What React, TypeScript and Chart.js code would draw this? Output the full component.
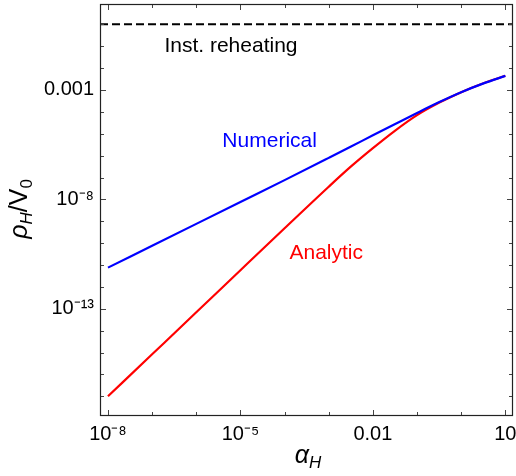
import React, { useEffect, useRef } from 'react';
import { Chart, registerables } from 'chart.js';

Chart.register(...registerables);

// ---- data ----
const alphaH = [1e-8, 1e-7, 1e-6, 1e-5, 1e-4, 1e-3, 3.2e-3, 1e-2, 3.2e-2, 0.1, 0.32, 1, 3.2, 10];
const numerical = [7.6e-12, 7.6e-11, 7.6e-10, 7.6e-9, 7.6e-8, 7.9e-7, 2.6e-6, 8.5e-6, 2.8e-5, 8.9e-5, 2.8e-4, 7.9e-4, 2.0e-3, 4.4e-3];
const analytic = [1.0e-17, 8.3e-16, 6.9e-14, 5.8e-12, 4.8e-10, 3.8e-8, 3.2e-7, 2.2e-6, 1.4e-5, 7.1e-5, 2.65e-4, 7.95e-4, 2.05e-3, 4.45e-3];
const instReheatingX = [6.6e-9, 14.9];
const instReheating = [1, 1];

const xTickValues = [1e-8, 1e-7, 1e-6, 1e-5, 1e-4, 1e-3, 1e-2, 1e-1, 1, 10];
const xTickLabels = ['10⁻⁸', '', '', '10⁻⁵', '', '', '0.01', '', '', '10'];
const yTickValues = [1e-17, 1e-16, 1e-15, 1e-14, 1e-13, 1e-12, 1e-11, 1e-10, 1e-9, 1e-8, 1e-7, 1e-6, 1e-5, 1e-4, 1e-3, 1e-2, 1e-1, 1];
const yTickLabels = ['', '', '', '', '10⁻¹³', '', '', '', '', '10⁻⁸', '', '', '', '', '0.001', '', '', ''];

const xRange = [6.6e-9, 14.9];
const yRange = [1.26e-18, 8.5];

const noteTexts = ['Inst. reheating', 'Numerical', 'Analytic'];
const noteX = [1.9e-7, 3.9e-6, 1.29e-4];
const noteY = [0.056, 2.6e-6, 1.8e-11];
const noteColors = ['#000000', '#0000ff', '#ff0000'];

const FONT = '"Liberation Sans", Arial, sans-serif';

const zeroPad = (scale: any) => {
  scale.paddingLeft = 0;
  scale.paddingRight = 0;
  scale.paddingTop = 0;
  scale.paddingBottom = 0;
};

const decorPlugin = {
  id: 'decor',
  afterDraw(chart: any) {
    const { ctx, chartArea, scales } = chart;
    const { left, right, top, bottom } = chartArea;
    const xs = scales.x;
    const ys = scales.y;
    ctx.save();

    // inward tick marks on all four sides
    ctx.strokeStyle = '#444';
    ctx.lineWidth = 1;
    ctx.beginPath();
    xs.ticks.forEach((t: any, i: number) => {
      const px = Math.round(xs.getPixelForValue(t.value)) + 0.5;
      const len = xTickLabels[i] ? 6 : 4;
      ctx.moveTo(px, bottom);
      ctx.lineTo(px, bottom - len);
      ctx.moveTo(px, top);
      ctx.lineTo(px, top + len);
    });
    ys.ticks.forEach((t: any, i: number) => {
      const py = Math.round(ys.getPixelForValue(t.value)) + 0.5;
      const len = yTickLabels[i] ? 6 : 4;
      ctx.moveTo(left, py);
      ctx.lineTo(left + len, py);
      ctx.moveTo(right, py);
      ctx.lineTo(right - len, py);
    });
    ctx.stroke();

    // frame
    ctx.strokeStyle = '#222';
    ctx.lineWidth = 1.2;
    ctx.strokeRect(left + 0.5, top + 0.5, right - left - 1, bottom - top - 1);

    // annotations
    ctx.font = `21px ${FONT}`;
    ctx.textAlign = 'left';
    ctx.textBaseline = 'alphabetic';
    noteTexts.forEach((txt, i) => {
      ctx.fillStyle = noteColors[i];
      ctx.fillText(txt, xs.getPixelForValue(noteX[i]), ys.getPixelForValue(noteY[i]));
    });

    // x axis title: α_H
    ctx.fillStyle = '#000';
    const mainF = `italic 25px ${FONT}`;
    const subF = `italic 17px ${FONT}`;
    ctx.font = mainF;
    const wa = ctx.measureText('α').width;
    ctx.font = subF;
    const wh = ctx.measureText('H').width;
    const cx = (left + right) / 2 + 1.5;
    const bx = bottom + 47;
    const x0 = cx - (wa + wh) / 2;
    ctx.font = mainF;
    ctx.fillText('α', x0, bx);
    ctx.font = subF;
    ctx.fillText('H', x0 + wa, bx + 5);

    // y axis title: ρ_H / V_0 (rotated)
    const parts = [
      { t: 'ρ', f: `italic 25px ${FONT}`, dy: 0 },
      { t: 'H', f: `italic 17px ${FONT}`, dy: 5 },
      { t: '/V', f: `25px ${FONT}`, dy: 0 },
      { t: '0', f: `17px ${FONT}`, dy: 5 },
    ];
    let total = 0;
    const widths = parts.map((p) => {
      ctx.font = p.f;
      const w = ctx.measureText(p.t).width;
      total += w;
      return w;
    });
    ctx.translate(27, (top + bottom) / 2 - 1);
    ctx.rotate(-Math.PI / 2);
    let lx = -total / 2;
    parts.forEach((p, i) => {
      ctx.font = p.f;
      ctx.fillText(p.t, lx, p.dy);
      lx += widths[i];
    });

    ctx.restore();
  },
};

export default function App() {
  const ref = useRef<HTMLCanvasElement | null>(null);

  useEffect(() => {
    if (!ref.current) return;
    const chart = new Chart(ref.current, {
      type: 'line',
      data: {
        datasets: [
          {
            label: 'Numerical',
            data: alphaH.map((a, i) => ({ x: a, y: numerical[i] })),
            borderColor: '#0000ff',
            borderWidth: 2.2,
            pointRadius: 0,
            cubicInterpolationMode: 'monotone',
            fill: false,
          },
          {
            label: 'Analytic',
            data: alphaH.map((a, i) => ({ x: a, y: analytic[i] })),
            borderColor: '#ff0000',
            borderWidth: 2.2,
            pointRadius: 0,
            cubicInterpolationMode: 'monotone',
            fill: false,
          },
          {
            label: 'Inst. reheating',
            data: instReheatingX.map((a, i) => ({ x: a, y: instReheating[i] })),
            borderColor: '#000000',
            borderWidth: 2,
            borderDash: [8, 4],
            pointRadius: 0,
            fill: false,
          },
        ],
      },
      options: {
        animation: false,
        responsive: false,
        maintainAspectRatio: false,
        parsing: false as any,
        layout: { padding: { top: 4, right: 3, left: 0, bottom: 0 } },
        plugins: {
          legend: { display: false },
          tooltip: { enabled: false },
        },
        scales: {
          x: {
            type: 'logarithmic',
            min: xRange[0],
            max: xRange[1],
            grid: { display: false, drawTicks: false },
            border: { display: false },
            afterBuildTicks: (scale: any) => {
              scale.ticks = xTickValues.map((v) => ({ value: v }));
            },
            afterFit: (scale: any) => {
              scale.height = 60;
              zeroPad(scale);
            },
            ticks: {
              autoSkip: false,
              maxRotation: 0,
              minRotation: 0,
              padding: 6,
              color: '#000',
              font: { family: FONT, size: 20 },
              callback: (_v: any, i: number) => xTickLabels[i],
            },
          },
          y: {
            type: 'logarithmic',
            min: yRange[0],
            max: yRange[1],
            grid: { display: false, drawTicks: false },
            border: { display: false },
            afterBuildTicks: (scale: any) => {
              scale.ticks = yTickValues.map((v) => ({ value: v }));
            },
            afterFit: (scale: any) => {
              scale.width = 100;
              zeroPad(scale);
            },
            ticks: {
              autoSkip: false,
              padding: 6,
              color: '#000',
              font: { family: FONT, size: 20 },
              callback: (_v: any, i: number) => yTickLabels[i],
            },
          },
        },
      },
      plugins: [decorPlugin],
    } as any);
    return () => chart.destroy();
  }, []);

  return (
    <div style={{ position: 'absolute', left: 0, top: 0, width: 516, height: 476, background: '#fff' }}>
      <canvas ref={ref} width={516} height={476} style={{ display: 'block' }} />
    </div>
  );
}
